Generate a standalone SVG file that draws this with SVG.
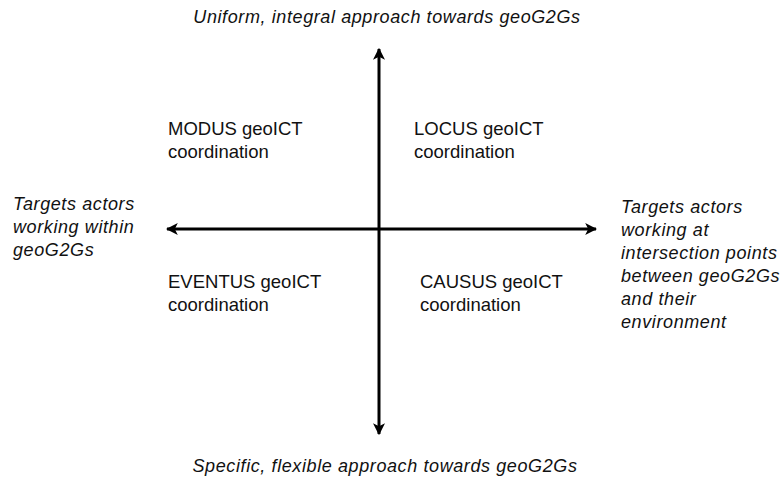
<svg xmlns="http://www.w3.org/2000/svg" width="780" height="482" viewBox="0 0 780 482">
  <style>
    .lbl { font-family: "Liberation Sans", Arial, sans-serif; font-size: 18.5px; fill: #111; }
    .it { font-style: italic; font-size: 18px; letter-spacing: 0.6px; }
    .axis { stroke: #000; stroke-width: 3; fill: none; }
  </style>
  <defs>
    <marker id="arrow" viewBox="0 0 10 10" refX="9" refY="5" markerWidth="4" markerHeight="4" orient="auto" markerUnits="strokeWidth">
      <path d="M0,0 L10,5 L0,10 L2.5,5 Z" fill="#000"/>
    </marker>
  </defs>
  <rect width="780" height="482" fill="#fff"/>

  <g id="connectors">
    <line class="axis" x1="379" y1="229" x2="379" y2="49" marker-end="url(#arrow)"/>
    <line class="axis" x1="379" y1="229" x2="379" y2="434" marker-end="url(#arrow)"/>
    <line class="axis" x1="379" y1="229" x2="167" y2="229" marker-end="url(#arrow)"/>
    <line class="axis" x1="379" y1="229" x2="596" y2="229" marker-end="url(#arrow)"/>
  </g>

  <g id="top-label">
    <text class="lbl it" x="387" y="23" text-anchor="middle">Uniform, integral approach towards geoG2Gs</text>
  </g>
  <g id="bottom-label">
    <text class="lbl it" x="385" y="472" text-anchor="middle">Specific, flexible approach towards geoG2Gs</text>
  </g>
  <g id="left-label">
    <text class="lbl it" x="13" y="210">Targets actors</text>
    <text class="lbl it" x="13" y="233">working within</text>
    <text class="lbl it" x="13" y="256">geoG2Gs</text>
  </g>
  <g id="right-label">
    <text class="lbl it" x="621" y="213">Targets actors</text>
    <text class="lbl it" x="621" y="236">working at</text>
    <text class="lbl it" x="621" y="259">intersection points</text>
    <text class="lbl it" x="621" y="282">between geoG2Gs</text>
    <text class="lbl it" x="621" y="305">and their</text>
    <text class="lbl it" x="621" y="328">environment</text>
  </g>
  <g id="modus">
    <text class="lbl" x="168" y="135">MODUS geoICT</text>
    <text class="lbl" x="168" y="158">coordination</text>
  </g>
  <g id="locus">
    <text class="lbl" x="414" y="135">LOCUS geoICT</text>
    <text class="lbl" x="414" y="158">coordination</text>
  </g>
  <g id="eventus">
    <text class="lbl" x="168" y="288">EVENTUS geoICT</text>
    <text class="lbl" x="168" y="311">coordination</text>
  </g>
  <g id="causus">
    <text class="lbl" x="420" y="288">CAUSUS geoICT</text>
    <text class="lbl" x="420" y="311">coordination</text>
  </g>
</svg>
